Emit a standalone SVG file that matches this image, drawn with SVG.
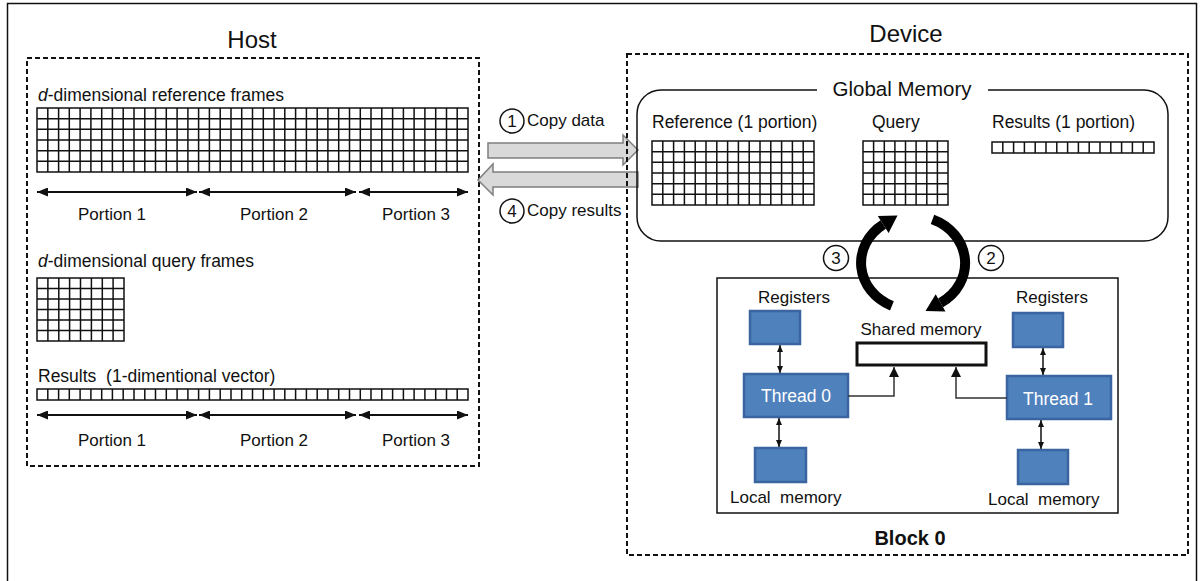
<svg xmlns="http://www.w3.org/2000/svg" width="1202" height="581" viewBox="0 0 1202 581">
  <style>
    text { font-family: "Liberation Sans", Arial, sans-serif; fill: #111; }
    .t17 { font-size: 17px; }
    .t175 { font-size: 17.5px; }
    .title { font-size: 24px; }
    .dash { fill: none; stroke: #111; stroke-width: 2; stroke-dasharray: 5 3; }
    .grid { fill: none; stroke: #111; stroke-width: 1.5; }
    .blue { fill: #4f81bd; stroke: #3a65a0; stroke-width: 2.5; }
    .wtext { fill: #fff; font-size: 17.5px; }
    .port { stroke: #111; stroke-width: 2; marker-start: url(#ah); marker-end: url(#ah); }
    .small { stroke: #111; stroke-width: 1.5; marker-start: url(#sm); marker-end: url(#sm); }
    .link { fill: none; stroke: #333; stroke-width: 1.5; marker-end: url(#tri); }
    .bigarrow { fill: #d9d9d9; stroke: #7f7f7f; stroke-width: 1.5; }
    .num { fill: none; stroke: #111; stroke-width: 1.5; }
    .arc { fill: none; stroke: #000; stroke-width: 10; }
  </style>
  <defs>
    <marker id="ah" markerUnits="userSpaceOnUse" markerWidth="11" markerHeight="9" refX="11" refY="4.5" orient="auto-start-reverse">
      <path d="M0,0 L11,4.5 L0,9 z" fill="#111"/>
    </marker>
    <marker id="sm" markerUnits="userSpaceOnUse" markerWidth="6" markerHeight="7" refX="7" refY="3" orient="auto-start-reverse">
      <path d="M0,0 L7,3 L0,6 z" fill="#111"/>
    </marker>
    <marker id="tri" markerUnits="userSpaceOnUse" markerWidth="10" markerHeight="10" refX="10" refY="5" orient="auto">
      <path d="M0,0 L10,5 L0,10 z" fill="#111"/>
    </marker>
  </defs>

  <rect width="1202" height="581" fill="#fff"/>
  <!-- figure frame -->
  <path d="M7.5 581 V3.5 H1196.5 V581" fill="none" stroke="#111" stroke-width="1.5"/>

  <!-- ===== Host ===== -->
  <g id="host">
    <text class="title" x="252" y="48" text-anchor="middle">Host</text>
    <rect class="dash" x="27" y="58" width="452" height="408"/>

    <text class="t175" x="38" y="101"><tspan font-style="italic">d</tspan>-dimensional reference frames</text>
    <g id="host-reference-grid" class="grid">
      <rect x="37" y="108" width="431" height="64"/>
      <path d="M47.8 108V172M58.6 108V172M69.3 108V172M80.1 108V172M90.9 108V172M101.7 108V172M112.4 108V172M123.2 108V172M134 108V172M144.8 108V172M155.5 108V172M166.3 108V172M177.1 108V172M187.9 108V172M198.6 108V172M209.4 108V172M220.2 108V172M231 108V172M241.7 108V172M252.5 108V172M263.3 108V172M274.1 108V172M284.8 108V172M295.6 108V172M306.4 108V172M317.2 108V172M327.9 108V172M338.7 108V172M349.5 108V172M360.3 108V172M371 108V172M381.8 108V172M392.6 108V172M403.4 108V172M414.1 108V172M424.9 108V172M435.7 108V172M446.5 108V172M457.2 108V172M37 118.7H468M37 129.3H468M37 140H468M37 150.7H468M37 161.3H468"/>
    </g>
    <line class="port" x1="37" y1="192" x2="197" y2="192"/>
    <line class="port" x1="199" y1="192" x2="356" y2="192"/>
    <line class="port" x1="359" y1="192" x2="468" y2="192"/>
    <text class="t17" x="112" y="220" text-anchor="middle">Portion 1</text>
    <text class="t17" x="274" y="220" text-anchor="middle">Portion 2</text>
    <text class="t17" x="416" y="220" text-anchor="middle">Portion 3</text>

    <text class="t175" x="38" y="267"><tspan font-style="italic">d</tspan>-dimensional query frames</text>
    <g id="host-query-grid" class="grid">
      <rect x="37" y="278" width="87" height="63"/>
      <path d="M47.9 278V341M58.8 278V341M69.6 278V341M80.5 278V341M91.4 278V341M102.3 278V341M113.1 278V341M37 288.5H124M37 299H124M37 309.5H124M37 320H124M37 330.5H124"/>
    </g>

    <text class="t175" x="38" y="382" xml:space="preserve">Results  (1-dimentional vector)</text>
    <g id="host-results-vector" class="grid">
      <rect x="37" y="389" width="431" height="11"/>
      <path d="M47.8 389V400M58.6 389V400M69.3 389V400M80.1 389V400M90.9 389V400M101.7 389V400M112.4 389V400M123.2 389V400M134 389V400M144.8 389V400M155.5 389V400M166.3 389V400M177.1 389V400M187.9 389V400M198.6 389V400M209.4 389V400M220.2 389V400M231 389V400M241.7 389V400M252.5 389V400M263.3 389V400M274.1 389V400M284.8 389V400M295.6 389V400M306.4 389V400M317.2 389V400M327.9 389V400M338.7 389V400M349.5 389V400M360.3 389V400M371 389V400M381.8 389V400M392.6 389V400M403.4 389V400M414.1 389V400M424.9 389V400M435.7 389V400M446.5 389V400M457.2 389V400"/>
    </g>
    <line class="port" x1="37" y1="415" x2="197" y2="415"/>
    <line class="port" x1="199" y1="415" x2="356" y2="415"/>
    <line class="port" x1="359" y1="415" x2="468" y2="415"/>
    <text class="t17" x="112" y="446" text-anchor="middle">Portion 1</text>
    <text class="t17" x="274" y="446" text-anchor="middle">Portion 2</text>
    <text class="t17" x="416" y="446" text-anchor="middle">Portion 3</text>
  </g>

  <!-- ===== Transfers between host and device ===== -->
  <g id="transfers">
    <polygon class="bigarrow" points="488,143 623,143 623,135 638,150 623,165 623,158 488,158"/>
    <polygon class="bigarrow" points="638,172 493,172 493,164 478,180 493,195 493,187 638,187"/>
    <circle class="num" cx="512" cy="121" r="12"/>
    <text class="t17" x="512" y="127" text-anchor="middle">1</text>
    <text class="t17" x="527" y="126">Copy data</text>
    <circle class="num" cx="512" cy="211" r="12"/>
    <text class="t17" x="512" y="217" text-anchor="middle">4</text>
    <text class="t17" x="527" y="216">Copy results</text>
  </g>

  <!-- ===== Device ===== -->
  <g id="device">
    <text class="title" x="906" y="42" text-anchor="middle">Device</text>
    <rect class="dash" x="627" y="54" width="561" height="501"/>
  </g>

  <g id="global-memory">
    <path d="M817 90 H661 A24 24 0 0 0 637 114 V217 A24 24 0 0 0 661 241 H1144 A24 24 0 0 0 1168 217 V114 A24 24 0 0 0 1144 90 H988" fill="none" stroke="#111" stroke-width="1.5"/>
    <text x="902" y="96" text-anchor="middle" font-size="20.5">Global Memory</text>

    <text class="t175" x="652" y="128">Reference (1 portion)</text>
    <g id="device-reference-grid" class="grid">
      <rect x="652" y="141" width="162" height="64"/>
      <path d="M662.8 141V205M673.6 141V205M684.4 141V205M695.2 141V205M706 141V205M716.8 141V205M727.6 141V205M738.4 141V205M749.2 141V205M760 141V205M770.8 141V205M781.6 141V205M792.4 141V205M803.2 141V205M652 151.7H814M652 162.3H814M652 173H814M652 183.7H814M652 194.3H814"/>
    </g>

    <text class="t175" x="872" y="128">Query</text>
    <g id="device-query-grid" class="grid">
      <rect x="863" y="141" width="85" height="64"/>
      <path d="M873.6 141V205M884.3 141V205M894.9 141V205M905.5 141V205M916.1 141V205M926.8 141V205M937.4 141V205M863 151.7H948M863 162.3H948M863 173H948M863 183.7H948M863 194.3H948"/>
    </g>

    <text class="t175" x="992" y="128">Results (1 portion)</text>
    <g id="device-results-vector" class="grid">
      <rect x="992" y="142" width="162" height="11"/>
      <path d="M1002.8 142V153M1013.6 142V153M1024.4 142V153M1035.2 142V153M1046 142V153M1056.8 142V153M1067.6 142V153M1078.4 142V153M1089.2 142V153M1100 142V153M1110.8 142V153M1121.6 142V153M1132.4 142V153M1143.2 142V153"/>
    </g>
  </g>

  <!-- ===== Block 0 ===== -->
  <g id="block0">
    <rect x="717" y="278" width="401" height="235" fill="none" stroke="#111" stroke-width="1.5"/>
    <text x="910" y="545" text-anchor="middle" font-size="20" font-weight="bold">Block 0</text>
  </g>

  <g id="registers-0">
    <text class="t17" x="794" y="303" text-anchor="middle">Registers</text>
    <rect class="blue" x="750" y="311" width="50" height="33"/>
  </g>
  <g id="registers-1">
    <text class="t17" x="1052" y="303" text-anchor="middle">Registers</text>
    <rect class="blue" x="1013" y="313" width="50" height="34"/>
  </g>
  <g id="thread-0">
    <rect class="blue" x="744" y="374" width="104" height="43"/>
    <text class="wtext" x="796" y="402" text-anchor="middle">Thread 0</text>
  </g>
  <g id="thread-1">
    <rect class="blue" x="1007" y="376" width="104" height="43"/>
    <text class="wtext" x="1058" y="405" text-anchor="middle">Thread 1</text>
  </g>
  <g id="local-memory-0">
    <rect class="blue" x="755" y="448" width="51" height="34"/>
    <text class="t17" x="730" y="503" xml:space="preserve">Local  memory</text>
  </g>
  <g id="local-memory-1">
    <rect class="blue" x="1018" y="450" width="50" height="34"/>
    <text class="t17" x="988" y="505" xml:space="preserve">Local  memory</text>
  </g>
  <g id="shared-memory">
    <text class="t17" x="921" y="335" text-anchor="middle">Shared memory</text>
    <rect x="857" y="343" width="129" height="22" fill="#fff" stroke="#111" stroke-width="3"/>
  </g>

  <!-- ===== Connectors ===== -->
  <g id="connectors">
    <line class="small" x1="780" y1="345" x2="780" y2="373"/>
    <line class="small" x1="779" y1="418" x2="779" y2="447"/>
    <line class="small" x1="1043" y1="348" x2="1043" y2="375"/>
    <line class="small" x1="1041" y1="420" x2="1041" y2="449"/>
    <path class="link" d="M848 396 H894 V367"/>
    <path class="link" d="M1007 398 H956 V367"/>

    <!-- step 2: global memory to shared memory -->
    <path class="arc" d="M932.5 219.4 A52 47 0 0 1 940.6 302.9"/>
    <polygon points="945.5,311.6 935.7,294.2 925.5,311" fill="#000"/>
    <!-- step 3: shared memory back to global memory -->
    <path class="arc" d="M891.9 305.9 A52 47 0 0 1 883.2 224.5"/>
    <polygon points="888.6,233 877.8,216 897.5,215.5" fill="#000"/>

    <circle class="num" cx="836" cy="258" r="12.5"/>
    <text class="t17" x="836" y="264" text-anchor="middle">3</text>
    <circle class="num" cx="991" cy="258" r="12.5"/>
    <text class="t17" x="991" y="264" text-anchor="middle">2</text>
  </g>
</svg>
